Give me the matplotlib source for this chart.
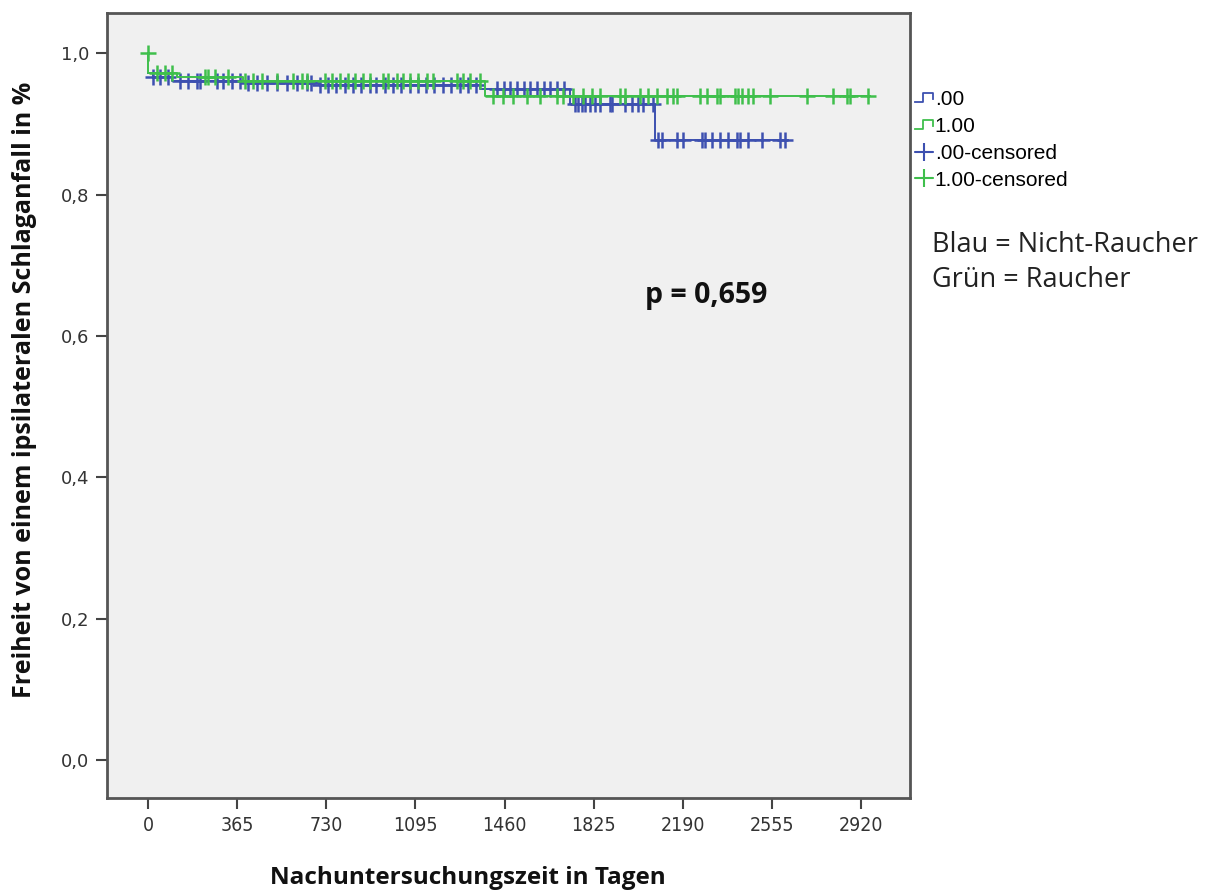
import numpy as np
import matplotlib.pyplot as plt
from matplotlib.lines import Line2D
from matplotlib.legend_handler import HandlerBase

# Kaplan-Meier Stufen: Zeitpunkt (Tage) und Anteil ohne Schlaganfall
blau_t = [0, 20, 100, 400, 700, 1360, 1728, 2076, 2621]
blau_s = [0.972, 0.967, 0.961, 0.958, 0.955, 0.949, 0.928, 0.877, 0.877]
gruen_t = [0, 2, 120, 390, 1380, 2957]
gruen_s = [1.0, 0.972, 0.966, 0.961, 0.939, 0.939]

# zensierte Fälle (Tage)
blau_zens = [20, 49, 82, 131, 164, 201, 213, 283, 307, 344, 377, 410, 446, 487, 528,
             569, 610, 651, 669, 703, 737, 771, 805, 839, 873, 907, 934, 969, 1003,
             1037, 1071, 1105, 1139, 1173, 1207, 1242, 1276, 1310, 1344,
             1429, 1456, 1483, 1511, 1538, 1565, 1592, 1620, 1647, 1674, 1702,
             1749, 1761, 1777, 1789, 1810, 1830, 1851, 1892, 1900, 1953, 1982, 2006,
             2027, 2068, 2088, 2105, 2166, 2191, 2269, 2281, 2310, 2342, 2375, 2412,
             2424, 2457, 2514, 2588, 2609]
gruen_zens = [0, 37, 70, 98, 233, 246, 274, 328, 397, 430, 467, 528, 594, 631, 651,
              725, 753, 786, 819, 848, 880, 909, 962, 983, 1020, 1044, 1073, 1106,
              1143, 1167, 1265, 1290, 1319, 1360,
              1413, 1454, 1495, 1552, 1605, 1675, 1699, 1740, 1781, 1818, 1851, 1933,
              1953, 2015, 2048, 2084, 2125, 2150, 2166, 2260, 2289, 2330, 2342, 2404,
              2416, 2432, 2457, 2477, 2547, 2699, 2805, 2862, 2875, 2948]

x_ticks = [0, 365, 730, 1095, 1460, 1825, 2190, 2555, 2920]
y_ticks = [0.0, 0.2, 0.4, 0.6, 0.8, 1.0]
legend_labels = ['.00', '1.00', '.00-censored', '1.00-censored']

BLAU = '#3d50b0'
GRUEN = '#3fbf4c'


def stufe(zeiten, t, s):
    idx = np.searchsorted(t, zeiten, side='right') - 1
    return np.array(s)[idx]


class HandlerStufe(HandlerBase):
    def create_artists(self, legend, orig, xd, yd, w, h, fontsize, trans):
        xs = [-xd, -xd + 0.45 * w, -xd + 0.45 * w, -xd + w, -xd + w]
        ys = [-yd + 0.2 * h, -yd + 0.2 * h, -yd + 0.8 * h, -yd + 0.8 * h, -yd + 0.4 * h]
        l = Line2D(xs, ys, color=orig.get_color(), lw=1.3, transform=trans)
        return [l]


fig = plt.figure(figsize=(12.14, 8.93), dpi=100)
ax = fig.add_axes([0.0881, 0.1064, 0.6615, 0.879])
ax.set_facecolor('#f0f0f0')

ax.step(blau_t, blau_s, where='post', color=BLAU, lw=1.4)
ax.plot(blau_zens, stufe(blau_zens, blau_t, blau_s), ls='none', marker='+',
        ms=12, mew=1.8, color=BLAU)
ax.step(gruen_t, gruen_s, where='post', color=GRUEN, lw=1.4)
ax.plot(gruen_zens, stufe(gruen_zens, gruen_t, gruen_s), ls='none', marker='+',
        ms=12, mew=1.8, color=GRUEN)

ax.set_xlim(-168, 3120)
ax.set_ylim(-0.054, 1.057)
ax.set_xticks(x_ticks)
ax.set_xticklabels([str(v) for v in x_ticks], family='DejaVu Sans',
                   fontstretch='condensed', fontsize=14)
ax.set_yticks(y_ticks)
ax.set_yticklabels([f'{v:.1f}'.replace('.', ',') for v in y_ticks],
                   family='DejaVu Sans', fontsize=13)
ax.tick_params(direction='out', length=8, width=1.5, color='#444444',
               labelcolor='#333333', pad=5)
for sp in ax.spines.values():
    sp.set_color('#555555')
    sp.set_linewidth(2)

fig.text(645 / 1214, 1 - 295 / 893, 'p = 0,659', family='Open Sans', fontweight='bold',
         fontsize=20.5, va='center', color='#111111')

fig.text(468 / 1214, 1 - 878 / 893, 'Nachuntersuchungszeit in Tagen', family='Open Sans',
         fontweight='bold', fontsize=17.5, ha='center', va='center', color='#111111')
fig.text(25 / 1214, 1 - 390 / 893, 'Freiheit von einem ipsilateralen Schlaganfall in %',
         family='Open Sans', fontweight='bold', fontsize=18, rotation=90, ha='center',
         va='center', color='#111111')

fig.text(932 / 1214, 1 - 245 / 893, 'Blau = Nicht-Raucher', family='Open Sans',
         fontsize=19.5, va='center', color='#222222')
fig.text(932 / 1214, 1 - 280 / 893, 'Grün = Raucher', family='Open Sans', fontsize=19.5,
         va='center', color='#222222')

h_step_b = Line2D([], [], color=BLAU)
h_step_g = Line2D([], [], color=GRUEN)
h_zens_b = Line2D([], [], color=BLAU, marker='+', ms=13, mew=1.5, lw=1.3)
h_zens_g = Line2D([], [], color=GRUEN, marker='+', ms=13, mew=1.5, lw=1.3)
fig.legend([h_step_b, h_step_g, h_zens_b, h_zens_g], legend_labels,
           handler_map={h_step_b: HandlerStufe(), h_step_g: HandlerStufe()},
           loc='upper left', bbox_to_anchor=(915 / 1214, 1 - 90 / 893), frameon=False,
           prop={'family': 'Liberation Sans', 'size': 15}, handlelength=0.85,
           handletextpad=0.1, labelspacing=0.38, borderaxespad=0, borderpad=0)

fig.savefig('out.png', dpi=100)
